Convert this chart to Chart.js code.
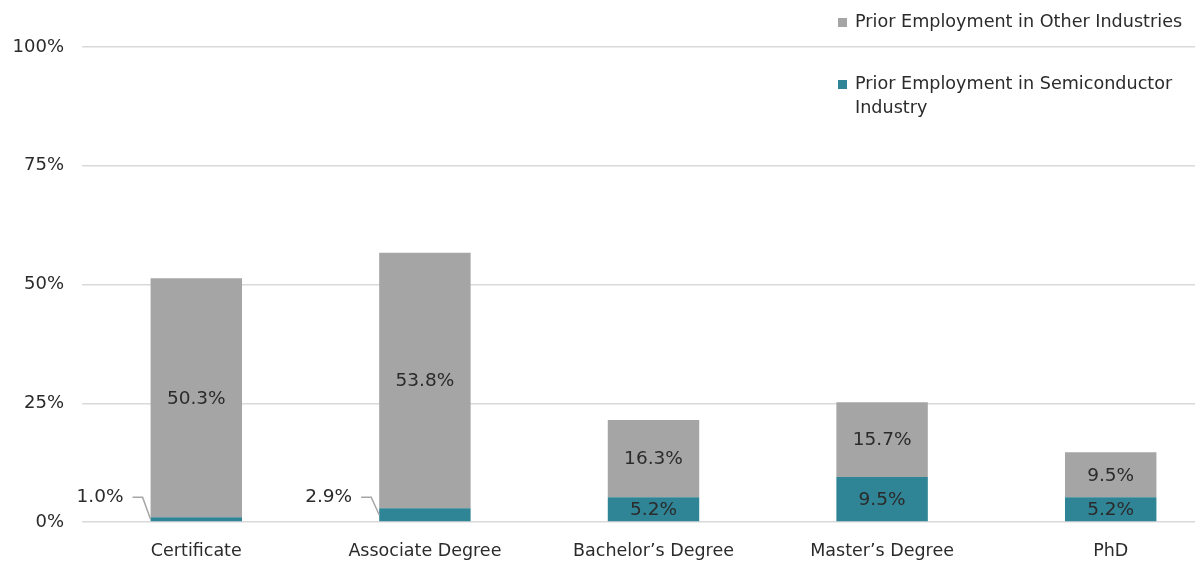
<!DOCTYPE html>
<html>
<head>
<meta charset="utf-8">
<script src="https://cdn.jsdelivr.net/npm/chart.js@4/dist/chart.umd.min.js"></script>
<style>
  html, body { margin: 0; padding: 0; background: #fff; overflow: hidden; }
  #wrap { position: relative; width: 1225px; height: 563px; }
</style>
</head>
<body>
<div id="wrap"><canvas id="c"></canvas></div>
<script>
// Share of hires by highest degree, split by where they worked before
const categories = ['Certificate', 'Associate Degree', 'Bachelor\u2019s Degree', 'Master\u2019s Degree', 'PhD'];
const semiconductorShare = [1.0, 2.9, 5.2, 9.5, 5.2];
const otherIndustryShare = [50.3, 53.8, 16.3, 15.7, 9.5];
const yTicks = [0, 25, 50, 75, 100];
const semiLabel = 'Prior Employment in Semiconductor Industry';
const otherLabel = 'Prior Employment in Other Industries';

const FONT = '"DejaVu Sans", sans-serif';
const TEXT = '#2b2b2b';
const GREY = '#a5a5a5';
const TEAL = '#2f8496';

// Value labels: centred inside a segment, or pulled out to the left with a leader line when the segment is thin
const valueLabels = {
  id: 'valueLabels',
  afterDatasetsDraw(chart) {
    const ctx = chart.ctx;
    ctx.save();
    ctx.font = '18.5px ' + FONT;
    ctx.fillStyle = TEXT;
    ctx.textBaseline = 'middle';
    chart.data.datasets.forEach((ds, di) => {
      const meta = chart.getDatasetMeta(di);
      meta.data.forEach((bar, i) => {
        const v = ds.data[i];
        const txt = v.toFixed(1) + '%';
        const top = Math.min(bar.y, bar.base), bot = Math.max(bar.y, bar.base);
        if (v >= 4) {
          ctx.textAlign = 'center';
          ctx.fillText(txt, bar.x, (top + bot) / 2 + 1);
        } else {
          const left = bar.x - bar.width / 2;
          const ly = bot - 24;
          ctx.textAlign = 'right';
          ctx.fillText(txt, left - 27, ly);
          ctx.strokeStyle = GREY;
          ctx.lineWidth = 1.5;
          ctx.beginPath();
          ctx.moveTo(left - 18, ly);
          ctx.lineTo(left - 8, ly);
          ctx.lineTo(left, (top + bot) / 2);
          ctx.stroke();
        }
      });
    });
    ctx.restore();
  }
};

// Legend in the top-right corner, wrapped to a fixed width
const cornerLegend = {
  id: 'cornerLegend',
  afterDraw(chart) {
    const ctx = chart.ctx;
    ctx.save();
    ctx.font = '17.6px ' + FONT;
    ctx.fillStyle = TEXT;
    ctx.textBaseline = 'middle';
    ctx.textAlign = 'left';
    const items = [
      { text: otherLabel, color: GREY, y: 22 },
      { text: semiLabel, color: TEAL, y: 84 }
    ];
    const x0 = 838, tx = 855, maxW = 335, lh = 24;
    items.forEach(it => {
      ctx.fillStyle = it.color;
      ctx.fillRect(x0, it.y - 4, 9, 9);
      ctx.fillStyle = TEXT;
      const words = it.text.split(' ');
      let line = '', y = it.y;
      words.forEach(w => {
        const test = line ? line + ' ' + w : w;
        if (ctx.measureText(test).width > maxW && line) {
          ctx.fillText(line, tx, y);
          line = w; y += lh;
        } else line = test;
      });
      ctx.fillText(line, tx, y);
    });
    ctx.restore();
  }
};

new Chart(document.getElementById('c'), {
  type: 'bar',
  data: {
    labels: categories,
    datasets: [
      { label: semiLabel, data: semiconductorShare, backgroundColor: TEAL },
      { label: otherLabel, data: otherIndustryShare, backgroundColor: GREY }
    ]
  },
  options: {
    responsive: true,
    maintainAspectRatio: false,
    animation: false,
    layout: { padding: { top: 47, right: 0, bottom: 0, left: 0 } },
    datasets: { bar: { categoryPercentage: 1, barPercentage: 0.4 } },
    plugins: { legend: { display: false }, tooltip: { enabled: false } },
    scales: {
      x: {
        stacked: true,
        grid: { display: false, drawTicks: false },
        border: { display: false },
        ticks: { color: TEXT, font: { family: FONT, size: 17.5 }, padding: 19 },
        afterFit(s) { s.height = 41; }
      },
      y: {
        stacked: true,
        min: 0, max: 100,
        afterBuildTicks(s) { s.ticks = yTicks.map(v => ({ value: v })); },
        grid: { color: '#d9d9d9', lineWidth: 1.5, drawTicks: false },
        border: { display: false },
        ticks: {
          color: TEXT, font: { family: FONT, size: 18 }, padding: 18,
          callback: v => v + '%'
        },
        afterFit(s) { s.width = 82; }
      }
    }
  },
  plugins: [valueLabels, cornerLegend]
});
</script>
</body>
</html>
